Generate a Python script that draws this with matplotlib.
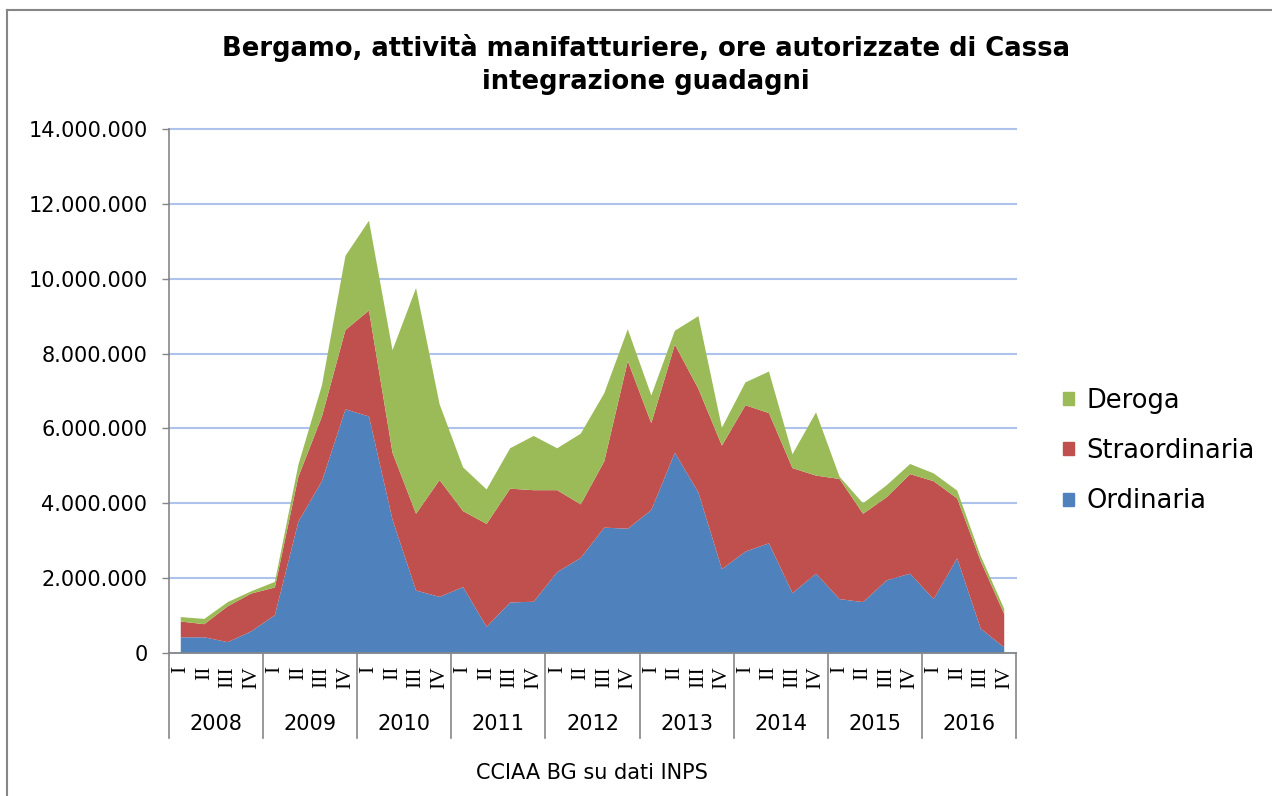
import matplotlib
matplotlib.use("Agg")
import matplotlib.pyplot as plt
from matplotlib.lines import Line2D
from matplotlib.patches import Patch
from matplotlib.ticker import FuncFormatter
import numpy as np

plt.rcParams["font.family"] = ["DejaVu Sans"]

years = ["2008", "2009", "2010", "2011", "2012", "2013", "2014", "2015", "2016"]
quarters = ["I", "II", "III", "IV"]

# ore autorizzate (milioni) per trimestre, I 2008 .. IV 2016
ordinaria = [0.42, 0.42, 0.29, 0.58, 1.01, 3.51, 4.59, 6.51, 6.32, 3.56, 1.67, 1.50,
             1.76, 0.70, 1.35, 1.37, 2.16, 2.54, 3.35, 3.32, 3.82, 5.35, 4.29, 2.24,
             2.71, 2.93, 1.60, 2.12, 1.44, 1.36, 1.94, 2.12, 1.44, 2.53, 0.65, 0.15]
straordinaria = [0.42, 0.35, 0.96, 1.01, 0.74, 1.20, 1.73, 2.12, 2.83, 1.79, 2.05, 3.12,
                 2.03, 2.75, 3.04, 2.98, 2.19, 1.43, 1.77, 4.48, 2.32, 2.89, 2.77, 3.30,
                 3.91, 3.48, 3.34, 2.62, 3.21, 2.36, 2.22, 2.66, 3.15, 1.60, 1.80, 0.89]
deroga = [0.12, 0.14, 0.11, 0.06, 0.15, 0.32, 0.83, 1.98, 2.40, 2.74, 6.03, 2.03,
          1.17, 0.92, 1.08, 1.45, 1.12, 1.89, 1.82, 0.85, 0.74, 0.37, 1.94, 0.48,
          0.61, 1.11, 0.37, 1.69, 0.06, 0.28, 0.32, 0.27, 0.21, 0.21, 0.14, 0.14]

BLUE = "#4F81BD"
RED = "#C0504D"
GREEN = "#9BBB59"
AXIS_GRAY = "#868686"
GRID = "#AEC2EB"

W, H = 1272, 796
fig = plt.figure(figsize=(W / 100, H / 100), dpi=100)

left, right, top, bottom = 169, 1016, 129, 653
ax = fig.add_axes([left / W, 1 - bottom / H, (right - left) / W, (bottom - top) / H])

n = len(ordinaria)
x = np.arange(n)
ys = [np.array(ordinaria) * 1e6, np.array(straordinaria) * 1e6, np.array(deroga) * 1e6]
ax.stackplot(x, ys, colors=[BLUE, RED, GREEN], linewidth=0, zorder=2)

ax.set_xlim(-0.5, n - 0.5)
ax.set_ylim(0, 14e6)
ax.set_yticks(np.arange(0, 14e6 + 1, 2e6))
ax.yaxis.set_major_formatter(FuncFormatter(lambda v, p: f"{v:,.0f}".replace(",", ".")))
ax.yaxis.grid(True, color=GRID, linewidth=1.5, zorder=1)
for gl in ax.get_ygridlines():
    gl.set_clip_on(False)
ax.set_axisbelow(True)
ax.tick_params(axis="y", direction="out", length=5, width=1, color=AXIS_GRAY,
               pad=10.5, labelsize=15)
ax.tick_params(axis="x", length=0, labelbottom=False)
for s in ["top", "right"]:
    ax.spines[s].set_visible(False)
for s in ["left", "bottom"]:
    ax.spines[s].set_color(AXIS_GRAY)
    ax.spines[s].set_linewidth(1.2)
    ax.spines[s].set_zorder(3)

# multi-level category axis
xt = ax.get_xaxis_transform()
ph = bottom - top
q_y = -(666 - bottom) / ph
yr_y = -(724 - bottom) / ph
sep_y = -(738 - bottom) / ph
for i in range(n):
    ax.text(i, q_y, quarters[i % 4], transform=xt, rotation=90, ha="center", va="top",
            fontsize=15.5, family="Liberation Serif")
for k, yr in enumerate(years):
    ax.text(4 * k + 1.5, yr_y, yr, transform=xt, ha="center", va="center", fontsize=15)
for k in range(len(years) + 1):
    ax.add_line(Line2D([4 * k - 0.5, 4 * k - 0.5], [0, sep_y], transform=xt,
                       color=AXIS_GRAY, linewidth=1.2, clip_on=False))

fig.text(646 / W, 1 - 48 / H, "Bergamo, attività manifatturiere, ore autorizzate di Cassa",
         ha="center", va="center", fontsize=18.6, fontweight="bold")
fig.text(646 / W, 1 - 82 / H, "integrazione guadagni",
         ha="center", va="center", fontsize=18.6, fontweight="bold")
fig.text(592 / W, 1 - 773 / H, "CCIAA BG su dati INPS", ha="center", va="center", fontsize=15)

handles = [Patch(color=GREEN, label="Deroga"), Patch(color=RED, label="Straordinaria"),
           Patch(color=BLUE, label="Ordinaria")]
fig.legend(handles=handles, loc="center left", bbox_to_anchor=(1050 / W, 1 - 451 / H),
           frameon=False, fontsize=18.5, handlelength=0.42, handleheight=0.42,
           handletextpad=0.5, labelspacing=0.95, borderpad=0)

# outer chart border (partially cropped in the reference)
fig.add_artist(Line2D([7 / W, 7 / W], [0, 1 - 10 / H], color=AXIS_GRAY, linewidth=1.5))
fig.add_artist(Line2D([7 / W, 1], [1 - 10 / H, 1 - 10 / H], color=AXIS_GRAY, linewidth=1.5))

fig.savefig("out.png", dpi=100)
